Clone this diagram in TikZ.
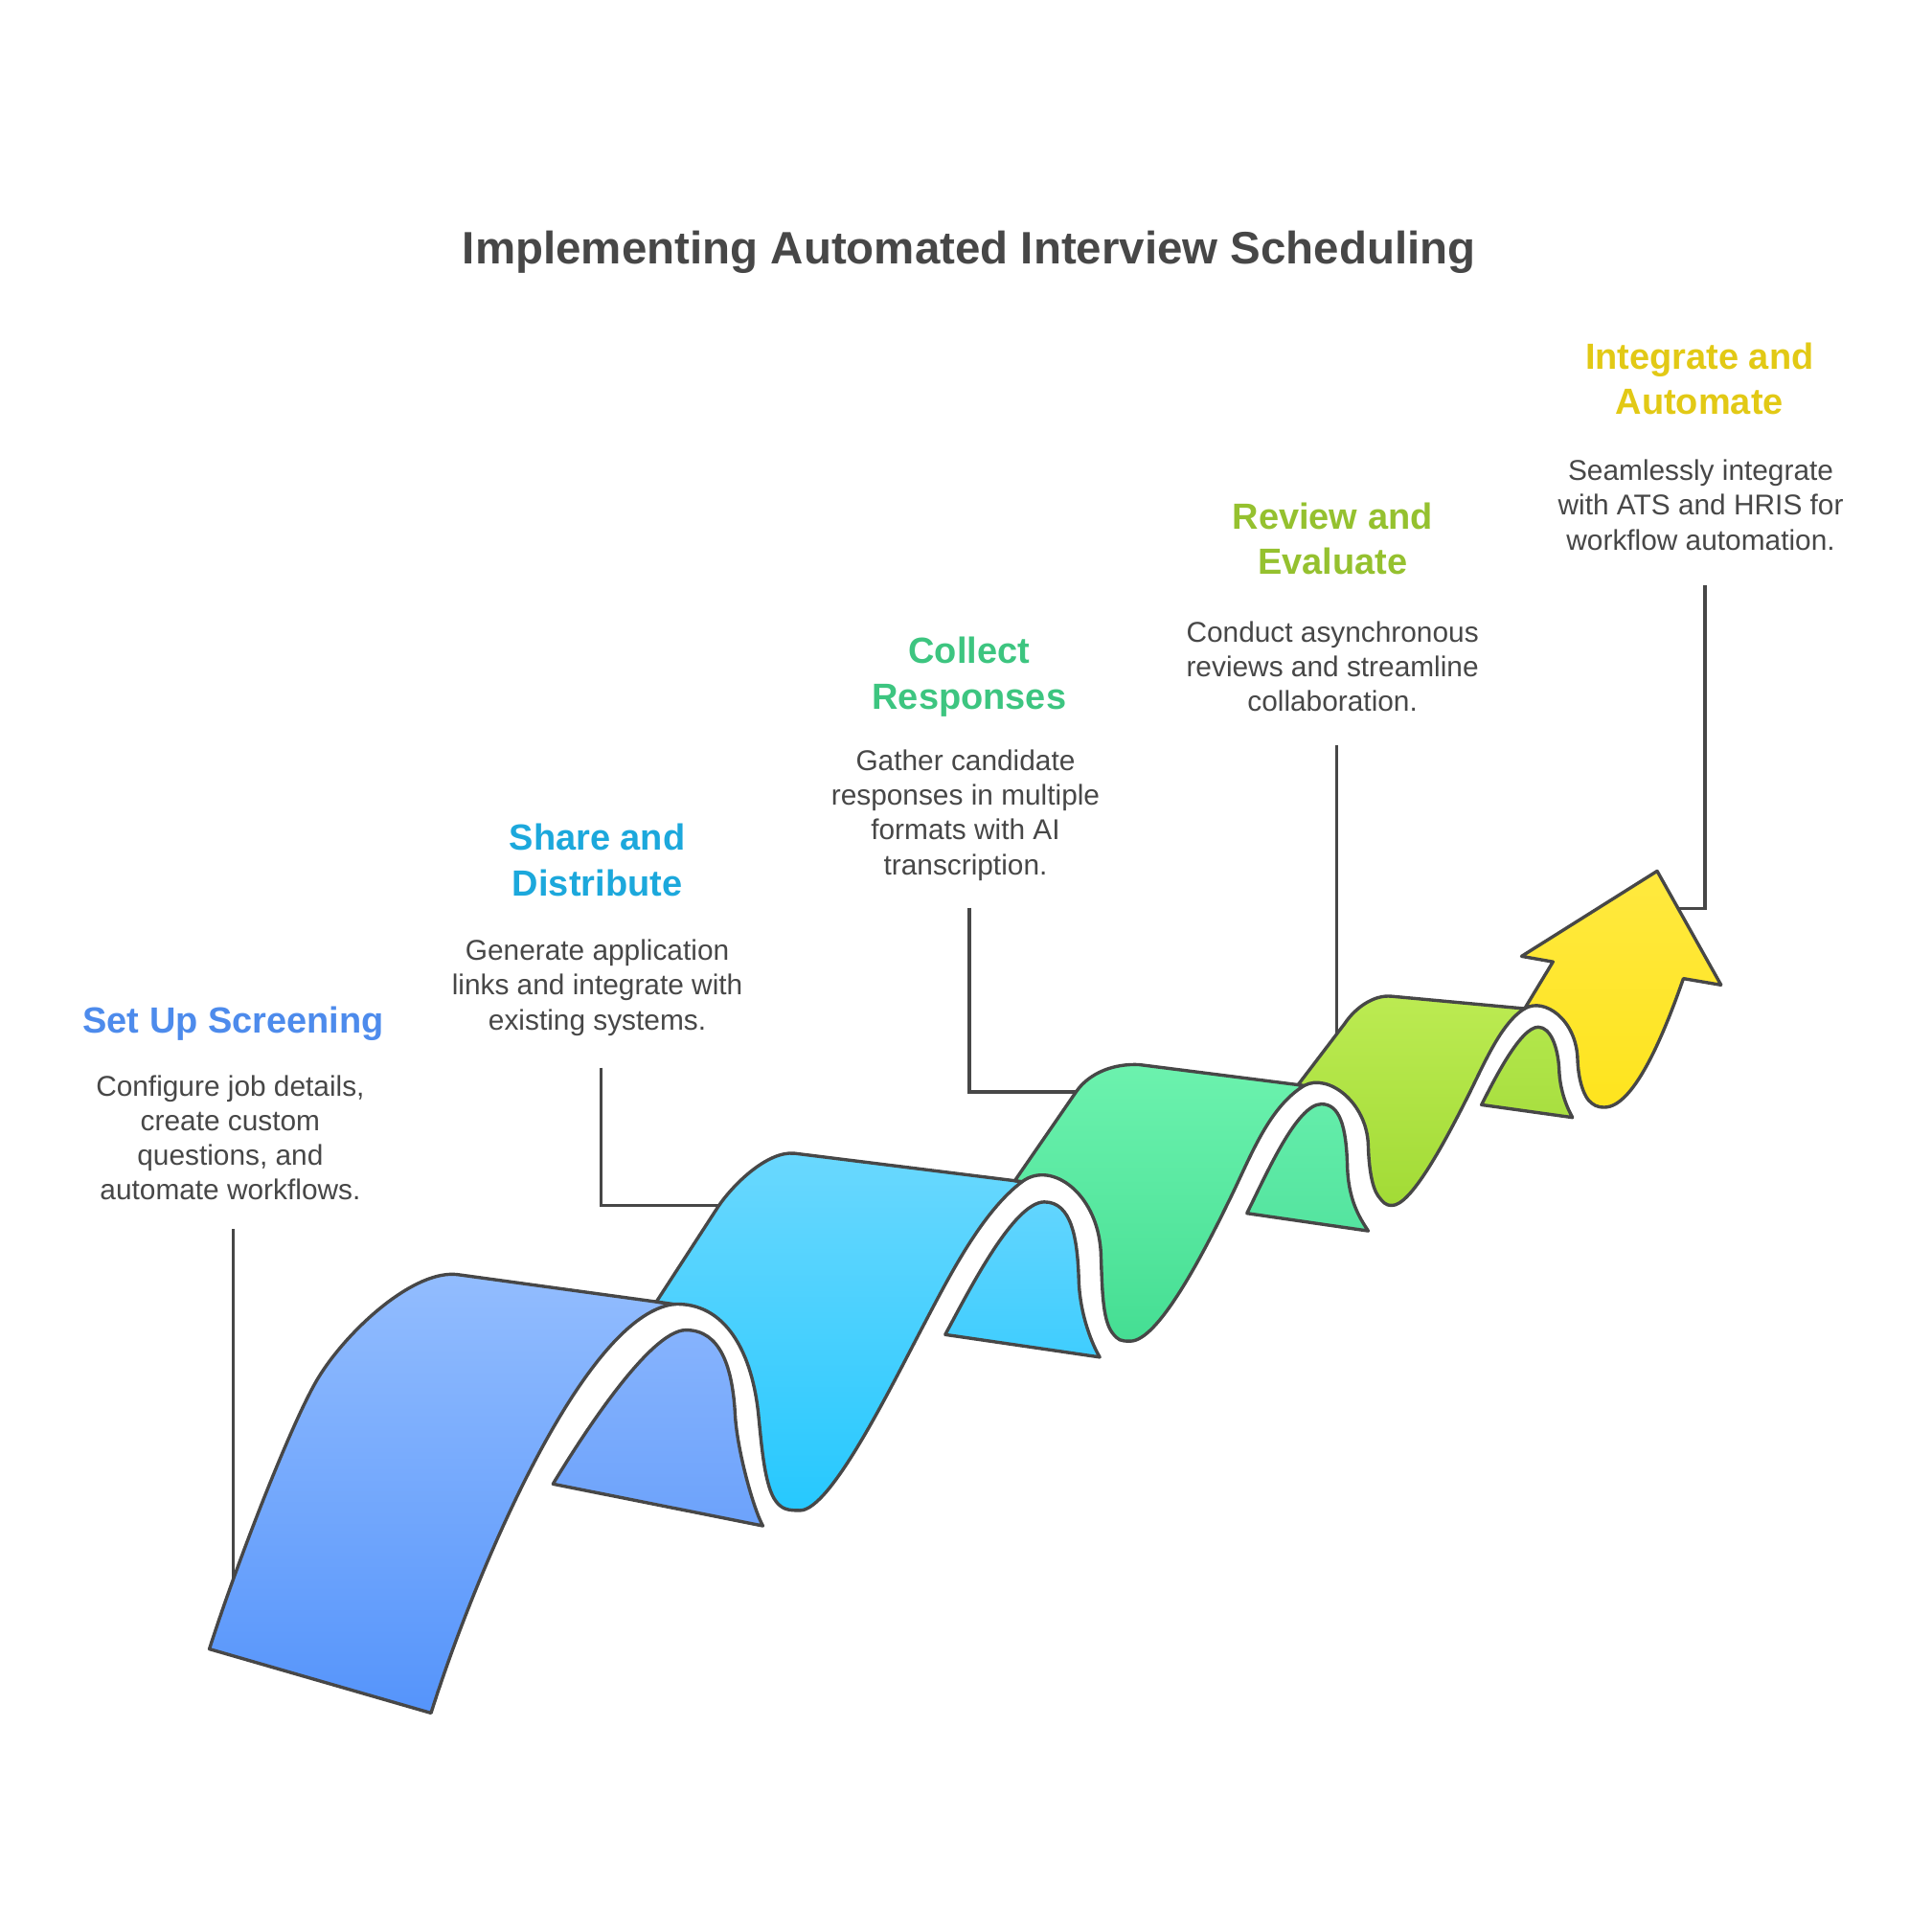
\documentclass[tikz,border=0pt]{standalone}
\usepackage{fontspec}
\setmainfont{Liberation Sans}
\definecolor{ink}{HTML}{474747}
\definecolor{blueT}{HTML}{93BDFE}
\definecolor{blueB}{HTML}{5594FB}
\definecolor{blueBkT}{HTML}{86B3FD}
\definecolor{blueBkB}{HTML}{6CA2FB}
\definecolor{cyanT}{HTML}{6AD8FE}
\definecolor{cyanB}{HTML}{26C8FE}
\definecolor{cyanBkT}{HTML}{62D5FE}
\definecolor{cyanBkB}{HTML}{3FCDFE}
\definecolor{greenT}{HTML}{6CF2AE}
\definecolor{greenB}{HTML}{45DE93}
\definecolor{greenBkT}{HTML}{64EDAA}
\definecolor{greenBkB}{HTML}{54E49F}
\definecolor{limeT}{HTML}{BCEB52}
\definecolor{limeB}{HTML}{A2DB36}
\definecolor{limeBkT}{HTML}{B2E64A}
\definecolor{limeBkB}{HTML}{A8DF40}
\definecolor{yellowT}{HTML}{FFE93F}
\definecolor{yellowB}{HTML}{FEE41E}
\definecolor{headblue}{HTML}{4D8BEC}
\definecolor{headcyan}{HTML}{1CA8DC}
\definecolor{headgreen}{HTML}{3DC580}
\definecolor{headlime}{HTML}{95C12F}
\definecolor{headyellow}{HTML}{E2C915}

\begin{document}
\begin{tikzpicture}[x=0.01cm,y=-0.01cm,
  outline/.style={draw=ink,line width=0.75pt,line join=round},
  leader/.style={draw=ink,line width=0.75pt},
  head/.style={font=\bfseries\fontsize{8.4}{10.5}\selectfont,align=center},
  desc/.style={text=ink,font=\fontsize{6.6}{8}\selectfont,align=center}]
  \useasboundingbox (0,0) rectangle (1568,1568);

  \node[text=ink,font=\bfseries\fontsize{10.5}{13}\selectfont] (title) at (787,205) {Implementing Automated Interview Scheduling};

  \node[head,text=headblue] (h1) at (189.5,831) {Set Up Screening};
  \node[desc] (d1) at (187,924) {Configure job details,\\create custom\\questions, and\\automate workflows.};
  \node[head,text=headcyan] (h2) at (485,698.5) {Share and\\Distribute};
  \node[desc] (d2) at (485,802) {Generate application\\links and integrate with\\existing systems.};
  \node[head,text=headgreen] (h3) at (787,549.5) {Collect\\Responses};
  \node[desc] (d3) at (784,662) {Gather candidate\\responses in multiple\\formats with AI\\transcription.};
  \node[head,text=headlime] (h4) at (1082,437.5) {Review and\\Evaluate};
  \node[desc] (d4) at (1082,541) {Conduct asynchronous\\reviews and streamline\\collaboration.};
  \node[head,text=headyellow] (h5) at (1380,307.5) {Integrate and\\Automate};
  \node[desc] (d5) at (1381,410) {Seamlessly integrate\\with ATS and HRIS for\\workflow automation.};

  \coordinate (l1) at (189.5,998);   \coordinate (m1) at (189.5,1290);
  \coordinate (l2) at (488,867);     \coordinate (m2) at (592,979);
  \coordinate (l3) at (787,737);     \coordinate (m3) at (882,886.7);
  \coordinate (l4) at (1085.5,605);  \coordinate (m4) at (1085.5,848);
  \coordinate (l5) at (1384.5,475);  \coordinate (m5) at (1355,737.6);
  \draw[leader] (l1) -- (m1);
  \draw[leader] (l2) |- (m2);
  \draw[leader] (l3) |- (m3);
  \draw[leader] (l4) -- (m4);
  \draw[leader] (l5) |- (m5);

  \coordinate (S) at (350,1391);
  \coordinate (P1) at (547,1059);   \coordinate (D1) at (616,1150);
  \coordinate (Z1) at (630,1219);   \coordinate (V2) at (649.5,1226.5);
  \coordinate (A2) at (751,1074);   \coordinate (P2) at (830,959.5);
  \coordinate (D2) at (894,1020);   \coordinate (Z2) at (903,1082);
  \coordinate (V3) at (917.8,1089); \coordinate (A3) at (997,977);
  \coordinate (P3) at (1059,881.5); \coordinate (D3) at (1111,930);
  \coordinate (Z3) at (1119,971);   \coordinate (V4) at (1130.4,978.8);
  \coordinate (A4) at (1190,894);   \coordinate (P4) at (1238,819);
  \coordinate (D4) at (1281,860);   \coordinate (Z4) at (1290,893.5);
  \coordinate (V5) at (1302.8,899.1); \coordinate (E5) at (1366.9,794.6);

  \coordinate (C1) at (170,1339);   \coordinate (G1) at (259.8,1116.6); \coordinate (R1) at (372,1035);
  \coordinate (J2) at (533,1057);   \coordinate (Q2) at (583,980);      \coordinate (R2) at (645,936.5);
  \coordinate (J3) at (824,958.75); \coordinate (Q3) at (873.7,886.7);  \coordinate (R3) at (925,864.5);
  \coordinate (J4) at (1054,880.9); \coordinate (Q4) at (1092,831);     \coordinate (R4) at (1130,809);
  \coordinate (K5a) at (1261,781);  \coordinate (K5b) at (1235.5,776.5);
  \coordinate (K5c) at (1345.6,707.3); \coordinate (K5d) at (1397.5,799.8);

  \coordinate (L1) at (449,1205);    \coordinate (K1) at (557,1080);  \coordinate (E1) at (597,1150);  \coordinate (T1) at (619.5,1239);
  \coordinate (L2) at (767.5,1083.7); \coordinate (K2) at (848,976);  \coordinate (E2) at (876,1040);  \coordinate (T2) at (893,1102);
  \coordinate (L3) at (1012.5,985.2); \coordinate (K3) at (1073,896.5); \coordinate (E3) at (1094,945); \coordinate (T3) at (1111,999.5);
  \coordinate (L4) at (1203,897.1);  \coordinate (K4) at (1249,834);  \coordinate (E4) at (1266,868);  \coordinate (T4) at (1276.9,907.4);

  \path[outline,top color=blueBkT,bottom color=blueBkB] (L1) .. controls +(20,-33) and +(-30,0) .. (K1)
    .. controls +(28,0) and +(-2,-40) .. (E1) .. controls +(2,30) and +(-7,-12) .. (T1) -- cycle;
  \path[outline,top color=cyanBkT,bottom color=cyanBkB] (L2) .. controls +(19,-35) and +(-25,0) .. (K2)
    .. controls +(22,0) and +(-1,-35) .. (E2) .. controls +(1,28) and +(-6,-10) .. (T2) -- cycle;
  \path[outline,top color=greenBkT,bottom color=greenBkB] (L3) .. controls +(15.6,-31.3) and +(-20,0) .. (K3)
    .. controls +(15,0) and +(-1,-30) .. (E3) .. controls +(0.5,28) and +(-8,-12) .. (T3) -- cycle;
  \path[outline,top color=limeBkT,bottom color=limeBkB] (L4) .. controls +(11,-22) and +(-14,0) .. (K4)
    .. controls +(10,0) and +(-1,-18) .. (E4) .. controls +(0.5,18) and +(-4,-7) .. (T4) -- cycle;

  \path[outline,top color=blueT,bottom color=blueB] (C1) .. controls +(21,-66) and +(-21.6,33.6) .. (G1)
    .. controls +(24,-38) and +(-35,-4.7) .. (R1) -- (P1) .. controls +(-75,10) and +(33,-105) .. (S) -- cycle;
  \path[outline,top color=cyanT,bottom color=cyanB] (J2) -- (Q2) .. controls +(12,-18) and +(-22,-2) .. (R2) -- (P2)
    .. controls +(-32,24) and +(21,-40) .. (A2) .. controls +(-28,53) and +(25,0) .. (V2)
    .. controls +(-10,0) and +(5,6.5) .. (Z1) .. controls +(-9,-12) and +(2.5,25) .. (D1)
    .. controls +(-5,-52) and +(42,-2) .. (P1) -- cycle;
  \path[outline,top color=greenT,bottom color=greenB] (J3) -- (Q3) .. controls +(11,-16) and +(-20,-1) .. (R3) -- (P3)
    .. controls +(-30,18.5) and +(18,-36) .. (A3) .. controls +(-22,45) and +(22,0) .. (V3)
    .. controls +(-8,0) and +(5,6.5) .. (Z2) .. controls +(-8,-11) and +(1,25) .. (D2)
    .. controls +(-1,-50) and +(24,-18) .. (P2) -- cycle;
  \path[outline,top color=limeT,bottom color=limeB] (J4) -- (Q4) .. controls +(8,-12) and +(-15,-1.5) .. (R4) -- (P4)
    .. controls +(-20,12) and +(13.7,-26.7) .. (A4) .. controls +(-18,35.5) and +(15,0) .. (V4)
    .. controls +(-6,0) and +(4,5) .. (Z3) .. controls +(-5,-7) and +(0.5,18) .. (D3)
    .. controls +(-1,-35) and +(19.4,-10.3) .. (P3) -- cycle;
  \path[outline,top color=yellowT,bottom color=yellowB] (P4) -- (K5a) -- (K5b) -- (K5c) -- (K5d) -- (E5)
    .. controls +(-14,40) and +(25,0) .. (V5) .. controls +(-6,0) and +(4,4) .. (Z4)
    .. controls +(-5,-6) and +(0.5,15) .. (D4) .. controls +(-1,-32) and +(16,-9.5) .. (P4) -- cycle;
\end{tikzpicture}
\end{document}
